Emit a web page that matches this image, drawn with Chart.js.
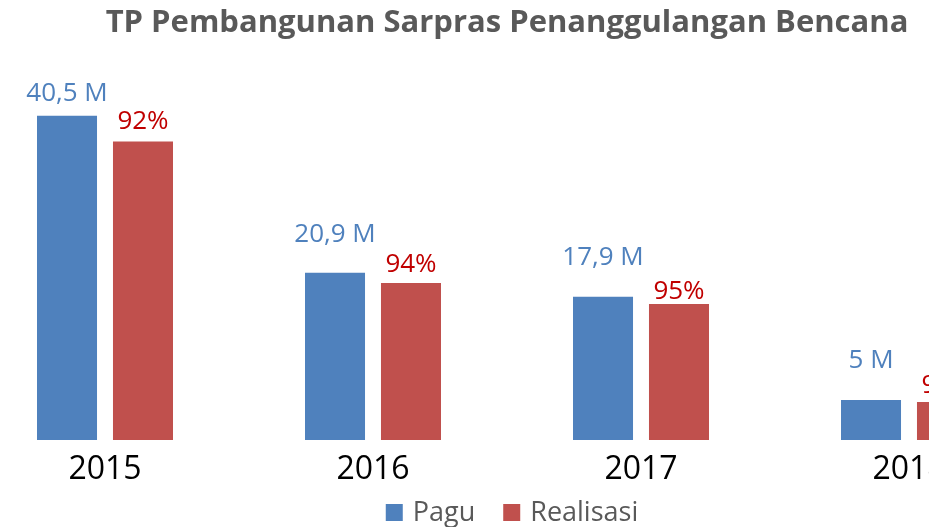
<!DOCTYPE html>
<html>
<head>
<meta charset="UTF-8">
<title>TP Pembangunan Sarpras Penanggulangan Bencana</title>
<style>
html, body{
	margin: 0;
	padding: 0;
	width: 929px;
	height: 527px;
	overflow: hidden;
	background-color: #ffffff;
}
#wrap{
	position: absolute;
	left: -29px;
	top: 0;
	width: 1072px;
	height: 527px;
}
</style>
</head>
<body>
	<div id="wrap">
		<canvas id="myChart" width="1072" height="527"></canvas>
	</div>
</body>
<script src="https://cdn.jsdelivr.net/npm/chart.js"></script>
<script>
// data (nilai dalam miliar, M)
const years = ['2015', '2016', '2017', '2018'];
const paguValues = [40.5, 20.9, 17.9, 5];
const realisasiValues = [37.3, 19.6, 17.0, 4.75];
const paguLabels = ['40,5 M', '20,9 M', '17,9 M', '5 M'];
const realisasiLabels = ['92%', '94%', '95%', '95%'];

// jarak label di atas batang (gaya saja)
const paguLift = [15, 31, 32, 32];
const realisasiLift = [12, 11, 5, 9];

const BLUE = '#4F81BD';
const RED = '#C0504D';

// label nilai di atas batang
const barLabels = {
	id: 'barLabels',
	afterDatasetsDraw(chart){
		const ctx = chart.ctx;
		ctx.save();
		ctx.font = '26px "Open Sans"';
		ctx.textAlign = 'center';
		ctx.textBaseline = 'alphabetic';
		chart.getDatasetMeta(0).data.forEach(function(bar, i){
			ctx.fillStyle = BLUE;
			ctx.fillText(paguLabels[i], bar.x, bar.y - paguLift[i]);
		});
		chart.getDatasetMeta(1).data.forEach(function(bar, i){
			ctx.fillStyle = '#C00000';
			ctx.fillText(realisasiLabels[i], bar.x, bar.y - realisasiLift[i]);
		});
		ctx.restore();
	}
};

// legenda bawah (digambar sendiri supaya jaraknya pas)
const bottomLegend = {
	id: 'bottomLegend',
	afterDraw(chart){
		const ctx = chart.ctx;
		const box = 17, gap = 10, space = 28;
		ctx.save();
		ctx.font = '27px "Open Sans"';
		ctx.textBaseline = 'alphabetic';
		ctx.textAlign = 'left';
		const sets = chart.data.datasets;
		let total = 0;
		sets.forEach(function(ds, i){
			total += box + gap + ctx.measureText(ds.label).width;
			if(i < sets.length - 1) total += space;
		});
		let x = (chart.chartArea.left + chart.chartArea.right) / 2 + 5 - total / 2;
		const y = chart.height - 6;
		sets.forEach(function(ds){
			ctx.fillStyle = ds.backgroundColor;
			ctx.fillRect(x, y - 17, box, box);
			x += box + gap;
			ctx.fillStyle = '#595959';
			ctx.fillText(ds.label, x, y);
			x += ctx.measureText(ds.label).width + space;
		});
		ctx.restore();
	}
};

const ctx = document.getElementById('myChart').getContext('2d');
const chart = new Chart(ctx, {
	type: 'bar',
	data: {
		labels: years,
		datasets: [{
			label: 'Pagu',
			data: paguValues,
			backgroundColor: BLUE,
			borderWidth: 0,
			categoryPercentage: 0.567,
			barPercentage: 0.79
		}, {
			label: 'Realisasi',
			data: realisasiValues,
			backgroundColor: RED,
			borderWidth: 0,
			categoryPercentage: 0.567,
			barPercentage: 0.79
		}]
	},
	options: {
		responsive: false,
		animation: false,
		devicePixelRatio: 1,
		layout: { padding: { top: 0, left: 0, right: 0, bottom: 28 } },
		scales: {
			x: {
				grid: { display: false, drawTicks: false },
				border: { display: false },
				ticks: {
					color: '#000000',
					padding: 26,
					font: { family: '"Open Sans"', size: 32, lineHeight: 0.22 }
				}
			},
			y: {
				display: false,
				min: 0,
				max: 49.7
			}
		},
		plugins: {
			title: {
				display: true,
				text: 'TP Pembangunan Sarpras Penanggulangan Bencana',
				color: '#595959',
				font: { family: '"Open Sans"', size: 31, weight: 'bold' },
				padding: { top: 5, bottom: 0 }
			},
			legend: { display: false },
			tooltip: { enabled: false }
		}
	},
	plugins: [barLabels, bottomLegend]
});
</script>
</html>
